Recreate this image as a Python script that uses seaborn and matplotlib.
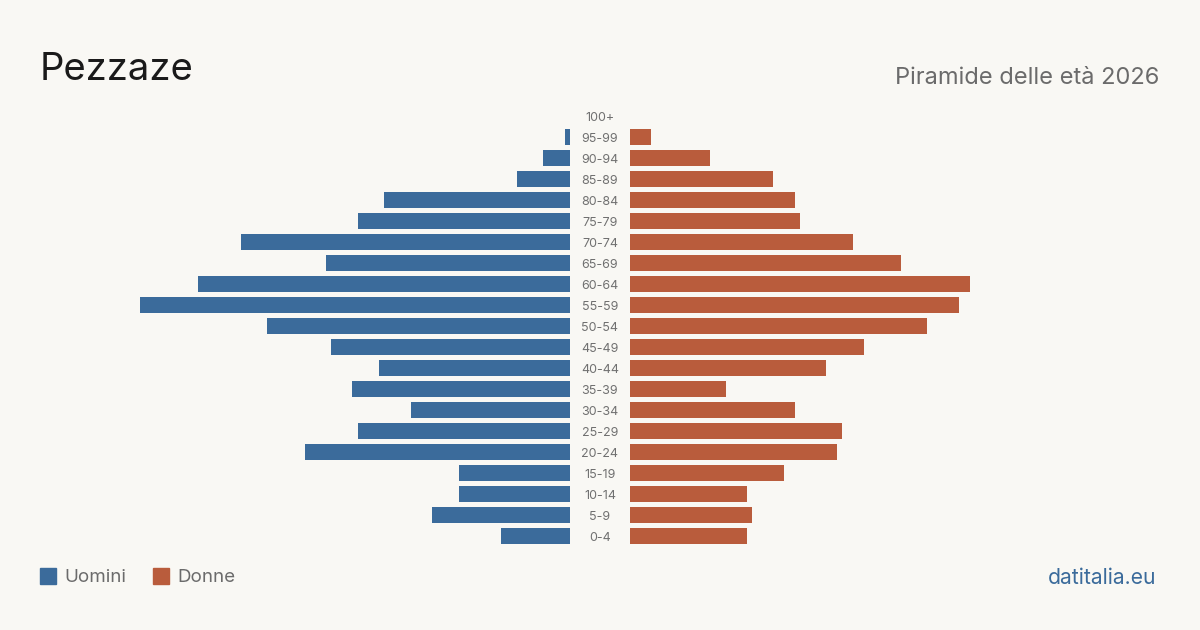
import matplotlib
matplotlib.use("Agg")
import matplotlib.pyplot as plt
import seaborn as sns
import pandas as pd
from matplotlib.patches import Rectangle

age_groups = ["100+", "95-99", "90-94", "85-89", "80-84", "75-79", "70-74", "65-69",
              "60-64", "55-59", "50-54", "45-49", "40-44", "35-39", "30-34", "25-29",
              "20-24", "15-19", "10-14", "5-9", "0-4"]
men = [0, 1, 5, 10, 35, 40, 62, 46, 70, 81, 57, 45, 36, 41, 30, 40, 50, 21, 21, 26, 13]
women = [0, 4, 15, 27, 31, 32, 42, 51, 64, 62, 56, 44, 37, 18, 31, 40, 39, 29, 22, 23, 22]

BG = "#f9f8f4"
BLUE = "#3b6b9b"
ORANGE = "#b95c3c"

sns.set_theme(style="white")
plt.rcParams["font.family"] = ["Inter", "DejaVu Sans"]

fig = plt.figure(figsize=(12, 6.3), dpi=100, facecolor=BG)
W, H = 1200, 630
top_px, bot_px = 105.5, 546.5
ax_b = 1 - bot_px / H
ax_h = (bot_px - top_px) / H
axL = fig.add_axes([140 / W, ax_b, 430 / W, ax_h])
axR = fig.add_axes([630 / W, ax_b, 430 / W, ax_h])

df = pd.DataFrame({"age": age_groups, "men": men, "women": women})
sns.barplot(data=df, y="age", x="men", orient="h", color=BLUE, width=0.8,
            saturation=1, linewidth=0, ax=axL)
sns.barplot(data=df, y="age", x="women", orient="h", color=ORANGE, width=0.8,
            saturation=1, linewidth=0, ax=axR)

xmax = 81
axL.set_xlim(xmax, 0)
axR.set_xlim(0, xmax)
for ax in (axL, axR):
    ax.set_facecolor(BG)
    ax.set_ylim(len(age_groups) - 0.5, -0.5)
    ax.set_xlabel("")
    ax.set_ylabel("")
    ax.set_xticks([])
    ax.set_yticks([])
    for s in ax.spines.values():
        s.set_visible(False)

# center age labels
for i, lab in enumerate(age_groups):
    y_px = 118 + 21 * i
    fig.text(600 / W, 1 - y_px / H, lab, ha="center", va="center",
             fontsize=9, color="#707070")

fig.text(40 / W, 1 - 70 / H, "Pezzaze", fontsize=27.5, color="#1a1a1a",
         ha="left", va="center")
fig.text(1159 / W, 1 - 78 / H, "Piramide delle età 2026", fontsize=17,
         color="#6b6b6b", ha="right", va="center")

# legend
fig.patches.append(Rectangle((40 / W, 1 - 584 / H), 16 / W, 16 / H,
                             transform=fig.transFigure, color=BLUE))
fig.text(64 / W, 1 - 578 / H, "Uomini", fontsize=13.5, color="#6b6b6b",
         ha="left", va="center")
fig.patches.append(Rectangle((153 / W, 1 - 584 / H), 16 / W, 16 / H,
                             transform=fig.transFigure, color=ORANGE))
fig.text(177 / W, 1 - 578 / H, "Donne", fontsize=13.5, color="#6b6b6b",
         ha="left", va="center")

fig.text(1156 / W, 1 - 578 / H, "datitalia.eu", fontsize=15.2, color=BLUE,
         ha="right", va="center")

fig.savefig("out.png", dpi=100, facecolor=BG)
